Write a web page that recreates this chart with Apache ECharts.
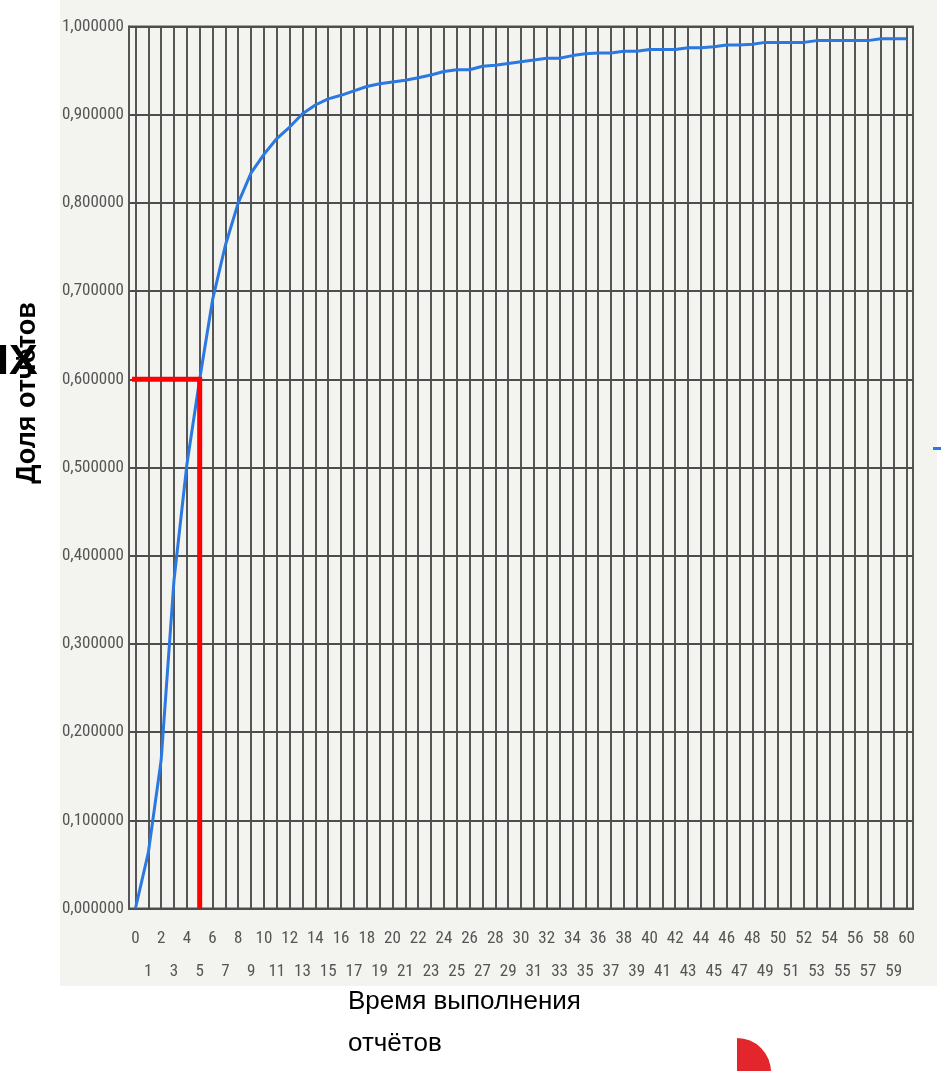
<!DOCTYPE html>
<html>
<head>
<meta charset="utf-8">
<script src="https://cdn.jsdelivr.net/npm/echarts@6/dist/echarts.min.js"></script>
<style>
html,body{margin:0;padding:0;background:#ffffff;}
#chart{width:941px;height:1071px;}
</style>
</head>
<body>
<div id="chart"></div>
<script>
// Категории оси X (время выполнения)
const timeCategories = ['0','1','2','3','4','5','6','7','8','9','10','11','12','13','14','15','16','17','18','19','20',
  '21','22','23','24','25','26','27','28','29','30','31','32','33','34','35','36','37','38','39','40',
  '41','42','43','44','45','46','47','48','49','50','51','52','53','54','55','56','57','58','59','60'];

// Доля отчётов (накопленная)
const shareValues = [0, 0.063, 0.168, 0.372, 0.503, 0.600, 0.690, 0.752, 0.800, 0.834, 0.855,
  0.873, 0.886, 0.901, 0.911, 0.918, 0.922, 0.927, 0.932, 0.935, 0.937,
  0.939, 0.942, 0.945, 0.949, 0.951, 0.951, 0.955, 0.956, 0.958, 0.960,
  0.962, 0.964, 0.964, 0.967, 0.969, 0.970, 0.970, 0.972, 0.972, 0.974,
  0.974, 0.974, 0.976, 0.976, 0.977, 0.979, 0.979, 0.980, 0.982, 0.982,
  0.982, 0.982, 0.984, 0.984, 0.984, 0.984, 0.984, 0.986, 0.986, 0.986];

// Красная опорная линия: уровень 0,6 при времени 5
const refLineX = [-0.7, 5, 5];
const refLineY = [0.6, 0.6, 0];

const yTitle = 'Доля отчётов';
const xTitle = 'Время выполнения\nотчётов';

const narrow = "'Liberation Sans Narrow', 'Arial Narrow', 'Roboto Condensed', 'Liberation Sans', sans-serif";

// Геометрия области построения
const gridLeft = 129, gridRight = 28, gridTop = 26.5, gridBottom = 162.5;
const plotWidth = 941 - gridLeft - gridRight;
const halfBand = plotWidth / timeCategories.length / 2;

const chart = echarts.init(document.getElementById('chart'));

const option = {
  backgroundColor: '#ffffff',
  animation: false,
  graphic: [
    { type: 'rect', z: -10, silent: true, shape: { x: 60, y: 0, width: 877, height: 986 }, style: { fill: '#f3f3f0' } },
    { type: 'text', z: 10, x: 28, y: 393, rotation: Math.PI / 2,
      style: { text: yTitle, fill: '#000', font: "bold 27px 'Liberation Sans', Arial, sans-serif", align: 'center', verticalAlign: 'middle' } },
    { type: 'text', z: 9, x: -3, y: 362,
      style: { text: 'IX', fill: '#000', font: "bold 43px 'Liberation Sans', Arial, sans-serif", align: 'left', verticalAlign: 'middle' } },
    { type: 'sector', z: 5, shape: { cx: 737, cy: 1072, r: 34, r0: 0, startAngle: -Math.PI / 2, endAngle: 0, clockwise: true },
      style: { fill: '#e3262b' } },
    { type: 'rect', z: 5, shape: { x: 933, y: 447, width: 8, height: 3 }, style: { fill: '#2a78e0' } }
  ],
  title: {
    text: xTitle,
    left: 348,
    top: 981,
    padding: 0,
    textStyle: { fontSize: 26, fontWeight: 'normal', color: '#000', lineHeight: 42, fontFamily: "'Liberation Sans', Arial, sans-serif" }
  },
  grid: [
    { left: gridLeft, right: gridRight, top: gridTop, bottom: gridBottom,
      show: true, borderColor: '#555555', borderWidth: 2, backgroundColor: 'transparent' },
    // вспомогательная сетка: 0..60 совпадает с центрами категорий
    { left: gridLeft + halfBand, right: gridRight + halfBand, top: gridTop, bottom: gridBottom, show: false }
  ],
  xAxis: [
    {
      type: 'category',
      gridIndex: 0,
      data: timeCategories,
      boundaryGap: true,
      axisLine: { show: true, lineStyle: { color: '#555555', width: 2 } },
      axisTick: { show: false },
      splitLine: { show: false },
      axisLabel: {
        interval: 0, margin: 14, fontSize: 17, lineHeight: 33, color: '#555555', fontFamily: narrow,
        formatter: function (v, idx) { return idx % 2 === 0 ? v : '\n' + v; }
      }
    },
    { type: 'value', gridIndex: 1, min: 0, max: timeCategories.length - 1, interval: 1,
      axisLine: { show: false }, axisTick: { show: false }, axisLabel: { show: false },
      minorTick: { show: false }, minorSplitLine: { show: false },
      splitLine: { show: true, lineStyle: { color: '#555555', width: 2 } } }
  ],
  yAxis: [
    {
      type: 'value',
      gridIndex: 0,
      min: 0, max: 1, interval: 0.1,
      axisLine: { show: true, lineStyle: { color: '#555555', width: 2 } },
      axisTick: { show: false },
      splitLine: { show: true, lineStyle: { color: '#4d4d4d', width: 2 } },
      axisLabel: {
        margin: 5, fontSize: 17, color: '#555555', fontFamily: narrow,
        formatter: function (v) { return v.toFixed(6).replace('.', ','); }
      },
      z: 2
    },
    { type: 'value', gridIndex: 1, min: 0, max: 1, show: false,
      splitLine: { show: false }, axisLine: { show: false }, axisTick: { show: false }, axisLabel: { show: false } }
  ],
  series: [
    {
      name: 'Доля',
      type: 'line',
      xAxisIndex: 0,
      yAxisIndex: 0,
      data: shareValues,
      showSymbol: false,
      symbol: 'none',
      lineStyle: { color: '#2a78e0', width: 3 },
      itemStyle: { color: '#2a78e0' },
      z: 3
    },
    {
      name: 'Порог',
      type: 'line',
      xAxisIndex: 1,
      yAxisIndex: 1,
      clip: false,
      data: refLineX.map(function (x, i) { return [x, refLineY[i]]; }),
      showSymbol: false,
      symbol: 'none',
      lineStyle: { color: '#ff0000', width: 5, cap: 'butt', join: 'miter' },
      z: 4
    }
  ]
};
chart.setOption(option);
</script>
</body>
</html>
